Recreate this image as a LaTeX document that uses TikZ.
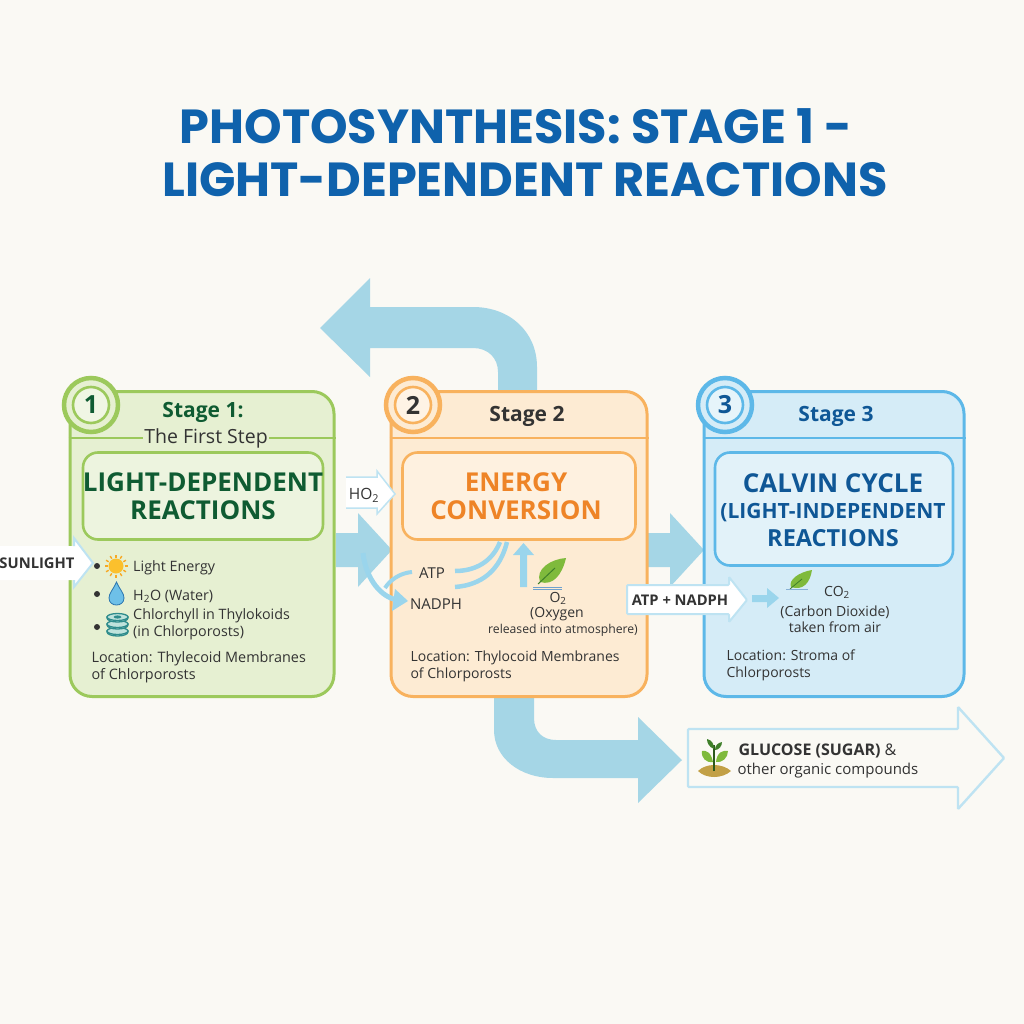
\documentclass[tikz,border=0pt]{standalone}
\usepackage{fontspec}
\setmainfont{Open Sans}
\newfontfamily\titlefont{Poppins}
\usetikzlibrary{calc}
\definecolor{bgc}{HTML}{FAF9F4}
\definecolor{flow}{HTML}{A5D6E6}
\definecolor{flowb}{HTML}{9AD5EC}
\definecolor{titleblue}{HTML}{0F62AC}
\definecolor{gline}{HTML}{9CC95C}
\definecolor{gfill}{HTML}{E6F0D2}
\definecolor{gtext}{HTML}{0F5B32}
\definecolor{oline}{HTML}{F8B25E}
\definecolor{ofill}{HTML}{FDEBD3}
\definecolor{otext}{HTML}{EE8427}
\definecolor{bline}{HTML}{5DB8E8}
\definecolor{bfill}{HTML}{D5ECF7}
\definecolor{btext}{HTML}{0F5796}
\definecolor{ink}{HTML}{333333}
\definecolor{paleline}{HTML}{BEE3F2}
\definecolor{leaf}{HTML}{7FBA3C}
\definecolor{leafd}{HTML}{3F7F2A}
\definecolor{dropc}{HTML}{6EC0E8}
\definecolor{sunr}{HTML}{F7A823}
\definecolor{sunc}{HTML}{FBC02D}
\definecolor{stackd}{HTML}{2F8C8C}
\definecolor{stackf}{HTML}{BFE3DC}
\definecolor{soil}{HTML}{C2A046}
\tikzset{
  titletext/.style={font=\titlefont\fontsize{47.8}{53}\selectfont\bfseries, text=titleblue, align=center},
  panel/.style={draw=#1, line width=3pt, rounded corners=22pt},
  inner/.style={draw=#1, line width=2.6pt, rounded corners=15pt},
  badgeo/.style={circle, draw=#1, line width=4.5pt, minimum size=54pt, inner sep=0pt},
  badgei/.style={circle, draw=#1, line width=2.6pt, minimum size=36pt, inner sep=0pt},
  badgenum/.style={font=\fontsize{25}{28}\selectfont\bfseries},
  heading/.style={font=\fontsize{21}{24}\selectfont\bfseries},
  bigtext/.style={font=\fontsize{26}{27.5}\selectfont\bfseries, align=center},
  body/.style={font=\fontsize{14.3}{17}\selectfont, text=ink, align=left, anchor=west},
  centred/.style={font=\fontsize{14}{16}\selectfont, text=ink, align=center},
  label/.style={font=\fontsize{15}{17}\selectfont, text=ink},
  flowshape/.style={fill=flow, draw=none},
  thinflow/.style={draw=flowb, line width=4.5pt},
  bulletdot/.style={circle, fill=ink, inner sep=0pt, minimum size=6pt},
}
\begin{document}
\begin{tikzpicture}[x=1pt,y=-1pt]
\useasboundingbox (0,0) rectangle (1024,1024);
\fill[bgc] (0,0) rectangle (1024,1024);

\node[titletext] (title) at (525,153) {PHOTOSYNTHESIS: STAGE 1 -\kern18pt\\LIGHT-DEPENDENT REACTIONS};

% large flow arrows (behind the panels)
\fill[flowshape] (537,395) -- (537,367) .. controls (537,332) and (510,307) .. (473,307) -- (370,307) -- (370,278) -- (320,328) -- (370,377) -- (370,348) -- (473,348) .. controls (488,348) and (498,358) .. (498,372) -- (498,395) -- cycle;
\fill[flowshape] (336,533) -- (358,533) -- (358,513) -- (392,550) -- (358,587) -- (358,567) -- (336,567) -- cycle;
\fill[flowshape] (648,533) -- (670,533) -- (670,513) -- (704,550) -- (670,587) -- (670,567) -- (648,567) -- cycle;
\fill[flowshape] (494,695) -- (494,730) .. controls (494,758) and (520,778) .. (553,778) -- (638,778) -- (638,803) -- (682,760) -- (638,717) -- (638,740) -- (556,740) .. controls (543,740) and (534,732) .. (534,718) -- (534,695) -- cycle;

% panel 1
\node[panel=gline, fill=gfill, minimum width=264pt, minimum height=305pt] (p1) at (202,544) {};
\draw[gline, line width=2pt] (p1.west |- 0,438) -- (p1.east |- 0,438);
\node[inner=gline, fill=gfill!70!white, minimum width=240pt, minimum height=87pt] (i1) at (203,496) {};
\node[badgeo=gline, fill=gfill] (b1o) at (91,405) {};
\node[badgei=gline, fill=gfill!60!white] (b1i) at (91,405) {};
\node[badgenum, text=gtext] (b1n) at (91,405) {1};
\node[heading, text=gtext] (h1) at (203,412) {Stage 1:};
\node[fill=gfill, inner xsep=1pt, inner ysep=0pt, font=\fontsize{19.5}{22}\selectfont, text=ink] (h1b) at (206,438) {The First Step};
\node[bigtext, text=gtext] (t1) at (203,496) {LIGHT-DEPENDENT\\REACTIONS};

\node[bulletdot] (d1) at (97,566) {};
\node[bulletdot] (d2) at (97,594) {};
\node[bulletdot] (d3) at (97,627) {};
% sun
\foreach \a in {0,30,...,330} \draw[sunr, line width=1.4pt] ($(116,566)+(\a:8.5pt)$) -- ($(116,566)+(\a:11.5pt)$);
\fill[sunc] (116,566) circle[radius=7.5pt];
% drop
\filldraw[fill=dropc, draw=btext!70!dropc, line width=.8pt] (116.5,582) .. controls (113,590) and (109,593) .. (109,598) .. controls (109,603) and (113,605) .. (116.5,605) .. controls (120,605) and (124,603) .. (124,598) .. controls (124,593) and (120,590) .. (116.5,582) -- cycle;
% thylakoid stack
\foreach \y in {632,625,618} {
  \filldraw[fill=stackf, draw=stackd, line width=1.3pt] (107,\y-1) -- (107,\y) arc[x radius=10.5pt,y radius=4pt,start angle=180,end angle=360] -- (128,\y-1) -- cycle;
  \filldraw[fill=stackf, draw=stackd, line width=1.3pt] (117.5,\y-1) ellipse[x radius=10.5pt,y radius=3.5pt];
}
\fill[stackd] (117.5,617) ellipse[x radius=4pt,y radius=1.6pt];
\node[body] (l1) at (129.7,568) {Light Energy};
\node[body] (l2) at (129.7,596) {H\textsubscript{2}O (Water)};
\node[body] (l3) at (129.7,624) {Chlorchyll in Thylokoids\\(in Chlorporosts)};
\node[font=\fontsize{14.4}{17.5}\selectfont, text=ink, align=left, anchor=west] (l4) at (88,667.5) {Location: Thylecoid Membranes\\of Chlorporosts};

% sunlight arrow
\fill[white] (0,546) -- (74,546) -- (74,538) -- (93,563) -- (74,587) -- (74,580) -- (0,580) -- cycle;
\draw[paleline, line width=2pt] (74,546) -- (74,538) -- (93,563) -- (74,587) -- (74,580);
\node[font=\fontsize{15.5}{17}\selectfont\bfseries, text=ink, inner sep=0pt] (sun) at (37,563) {\resizebox{75pt}{!}{SUNLIGHT}};

% panel 2
\node[panel=oline, fill=ofill, minimum width=256pt, minimum height=305pt] (p2) at (519,544) {};
\draw[oline, line width=2pt] (p2.west |- 0,438) -- (p2.east |- 0,438);
\node[inner=oline, fill=ofill!70!white, minimum width=233pt, minimum height=87pt] (i2) at (519,496) {};
\node[badgeo=oline, fill=ofill] (b2o) at (413,405) {};
\node[badgei=oline, fill=ofill!60!white] (b2i) at (413,405) {};
\node[badgenum, text=ink] (b2n) at (413,405) {2};
\node[heading, text=ink] (h2) at (527,416) {Stage 2};
\node[bigtext, text=otext] (t2) at (516,496) {ENERGY\\CONVERSION};

\node[label] (atp) at (432,573) {ATP};
\node[label] (nadph) at (436,604) {NADPH};
\draw[thinflow] (455,571) .. controls (475,571) and (492,562) .. (500,542);
\draw[thinflow] (455,587) .. controls (482,585) and (500,570) .. (507,542);
\draw[thinflow, line width=4pt] (412,572) .. controls (400,573) and (390,580) .. (385,588);
\fill[flowb] (520,587) -- (520,555) -- (513,555) -- (523.5,543) -- (534,555) -- (527,555) -- (527,587) -- cycle;
% leaf O2
\fill[leaf] (566,558) .. controls (551,559) and (535,569) .. (540,582) .. controls (553,586) and (562,575) .. (566,558) -- cycle;
\draw[leafd, line width=1pt] (538,584) -- (555,568);
\draw[titleblue!60!white, line width=1pt] (533,587) -- (562,587);
\draw[titleblue!60!white, line width=1pt] (533,589.5) -- (562,589.5);
\node[centred] (o2) at (558,598) {O\textsubscript{2}};
\node[centred] (oxy) at (557,614) {(Oxygen};
\node[centred, font=\fontsize{12.2}{14}\selectfont] (rel) at (563,630) {released into atmosphere)};
\node[font=\fontsize{14}{17}\selectfont, text=ink, align=left, anchor=west] (l5) at (407,666) {Location: Thylocoid Membranes\\of Chlorporosts};
% curved arrow to NADPH
\draw[thinflow, line width=5pt] (363,553) .. controls (366,580) and (382,598) .. (398,600);
\fill[flowb] (395,589) -- (408,601) -- (392,611) -- cycle;

% HO2 arrow
\fill[white] (346,477) -- (377,477) -- (377,471) -- (395,494) -- (377,514) -- (377,508) -- (346,508) -- cycle;
\draw[paleline, line width=1.5pt] (346,477) -- (377,477) -- (377,471) -- (395,494) -- (377,514) -- (377,508) -- (346,508);
\node[font=\fontsize{15.5}{17}\selectfont, text=ink] (ho2) at (364,495) {HO\textsubscript{2}};

% panel 3
\node[panel=bline, fill=bfill, minimum width=260pt, minimum height=305pt] (p3) at (834,544) {};
\draw[bline, line width=2pt] (p3.west |- 0,438) -- (p3.east |- 0,438);
\node[inner=bline, fill=bfill!70!white, minimum width=238pt, minimum height=113pt] (i3) at (834,509) {};
\node[badgeo=bline, fill=bfill] (b3o) at (725,405) {};
\node[badgei=bline, fill=bfill!60!white] (b3i) at (725,405) {};
\node[badgenum, text=btext] (b3n) at (725,405) {3};
\node[heading, text=btext] (h3) at (836,416) {Stage 3};
\node[bigtext, text=btext] (t3) at (833,510) {CALVIN CYCLE\\[-1pt]{\fontsize{21}{26}\selectfont (LIGHT-INDEPENDENT}\\{\fontsize{23.5}{27}\selectfont REACTIONS}};

% ATP + NADPH arrow
\filldraw[fill=white, draw=paleline, line width=2pt, rounded corners=1pt] (627,585) -- (729,585) -- (729,577) -- (747,600) -- (729,622) -- (729,614) -- (627,614) -- cycle;
\node[font=\fontsize{14.7}{16}\selectfont\bfseries, text=ink] (an) at (680,600) {ATP + NADPH};
\fill[flowb] (752,595) -- (767,595) -- (767,588) -- (779,598) -- (767,608) -- (767,602) -- (752,602) -- cycle;
% leaf CO2
\fill[leaf] (812,570) .. controls (799,572) and (788,580) .. (791,587) .. controls (803,591) and (810,583) .. (812,570) -- cycle;
\draw[leafd, line width=.8pt] (790,589) -- (802,579);
\draw[titleblue!50!white, line width=.8pt] (786,589.5) -- (808,589.5);
\node[centred] (co2) at (837,592) {CO\textsubscript{2}};
\node[centred] (cd) at (835,619) {(Carbon Dioxide)\\taken from air};
\node[font=\fontsize{14}{17}\selectfont, text=ink, align=left, anchor=west] (l6) at (723,665) {Location: Stroma of\\Chlorporosts};

% glucose arrow
\filldraw[fill=bgc, draw=paleline, line width=2.4pt, rounded corners=1pt] (688,729) -- (958,729) -- (958,707) -- (1004,758) -- (958,809) -- (958,787) -- (688,787) -- cycle;
% seedling
\fill[soil] (698,771) .. controls (706,763) and (722,763) .. (731,771) .. controls (722,779) and (706,779) .. (698,771) -- cycle;
\draw[leafd!70!black, line width=1.5pt] (714,771) -- (714,745);
\fill[leaf] (713,762) .. controls (711,752) and (706,750) .. (702,751) .. controls (701,758) and (706,763) .. (713,762) -- cycle;
\fill[leaf] (716,762) .. controls (717,752) and (723,750) .. (728,751) .. controls (728,758) and (722,763) .. (716,762) -- cycle;
\fill[leafd] (714,749) .. controls (709,747) and (707,743) .. (707,739) .. controls (712,740) and (714,744) .. (714,749) -- cycle;
\fill[leafd] (715,750) .. controls (715,745) and (718,743) .. (722,742) .. controls (722,746) and (719,750) .. (715,750) -- cycle;
\node[font=\fontsize{16}{18}\selectfont, text=ink, anchor=west] (g1) at (735,751) {\bfseries GLUCOSE (SUGAR) \mdseries\&};
\node[font=\fontsize{15}{18}\selectfont, text=ink, anchor=west] (g2) at (734,771) {other organic compounds};
\end{tikzpicture}
\end{document}
